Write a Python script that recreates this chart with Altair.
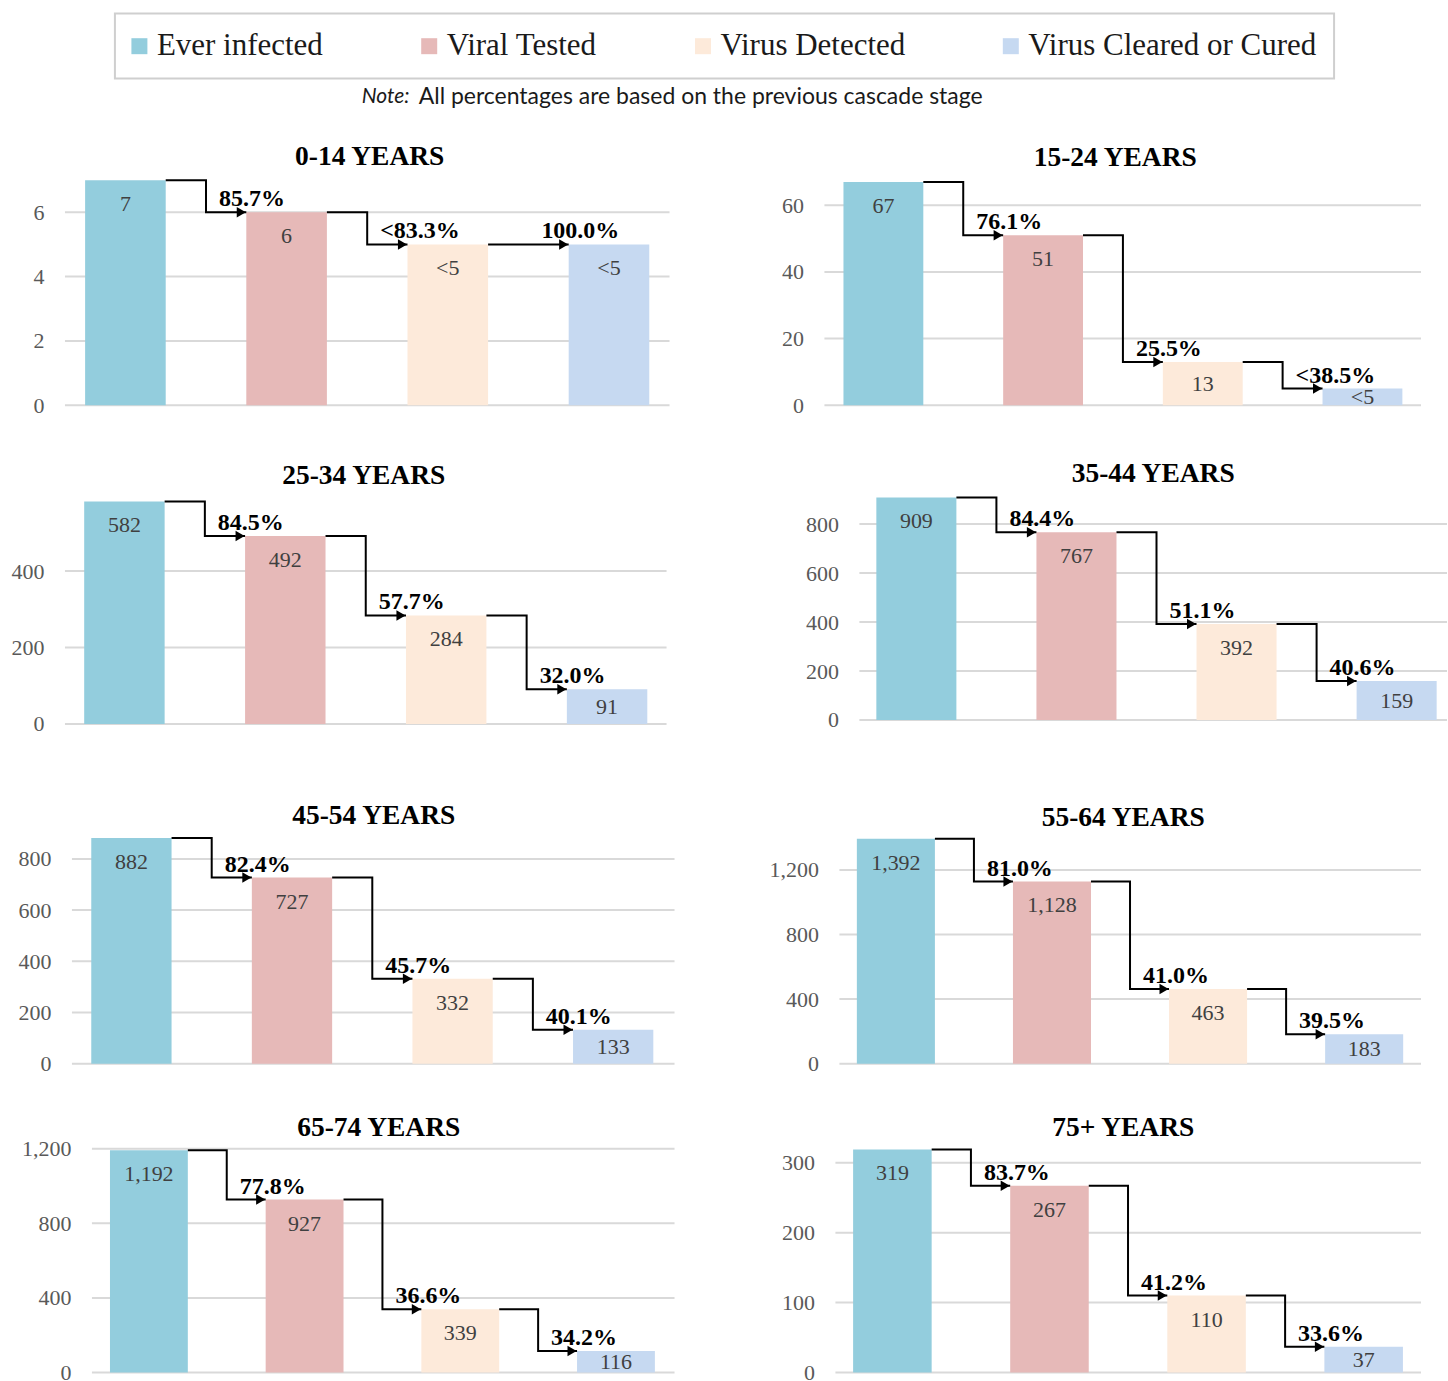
import altair as alt
import pandas as pd

# ---- data -----------------------------------------------------------------
STAGES = ["Ever infected", "Viral Tested", "Virus Detected", "Virus Cleared or Cured"]
STAGE_COLORS = ["#93CDDD", "#E6B9B8", "#FDEADA", "#C6D9F1"]

AGE_GROUPS = ["0-14 YEARS", "15-24 YEARS", "25-34 YEARS", "35-44 YEARS",
              "45-54 YEARS", "55-64 YEARS", "65-74 YEARS", "75+ YEARS"]

# counts per cascade stage ("<5" = suppressed small cell, drawn at 5)
COUNTS_0_14 = ["7", "6", "<5", "<5"]
COUNTS_15_24 = ["67", "51", "13", "<5"]
COUNTS_25_34 = ["582", "492", "284", "91"]
COUNTS_35_44 = ["909", "767", "392", "159"]
COUNTS_45_54 = ["882", "727", "332", "133"]
COUNTS_55_64 = ["1,392", "1,128", "463", "183"]
COUNTS_65_74 = ["1,192", "927", "339", "116"]
COUNTS_75_UP = ["319", "267", "110", "37"]

# stage-to-stage percentages (relative to the previous stage)
PCT_0_14 = ["85.7%", "<83.3%", "100.0%"]
PCT_15_24 = ["76.1%", "25.5%", "<38.5%"]
PCT_25_34 = ["84.5%", "57.7%", "32.0%"]
PCT_35_44 = ["84.4%", "51.1%", "40.6%"]
PCT_45_54 = ["82.4%", "45.7%", "40.1%"]
PCT_55_64 = ["81.0%", "41.0%", "39.5%"]
PCT_65_74 = ["77.8%", "36.6%", "34.2%"]
PCT_75_UP = ["83.7%", "41.2%", "33.6%"]

# y-axis tick values per panel
TICKS_0_14 = [0, 2, 4, 6]
TICKS_15_24 = [0, 20, 40, 60]
TICKS_25_34 = [0, 200, 400]
TICKS_35_44 = [0, 200, 400, 600, 800]
TICKS_45_54 = [0, 200, 400, 600, 800]
TICKS_55_64 = [0, 400, 800, 1200]
TICKS_65_74 = [0, 400, 800, 1200]
TICKS_75_UP = [0, 100, 200, 300]

NOTE_LEAD = "Note:"
NOTE_TEXT = "All percentages are based on the previous cascade stage"

COUNTS = dict(zip(AGE_GROUPS, [COUNTS_0_14, COUNTS_15_24, COUNTS_25_34, COUNTS_35_44,
                               COUNTS_45_54, COUNTS_55_64, COUNTS_65_74, COUNTS_75_UP]))
PCTS = dict(zip(AGE_GROUPS, [PCT_0_14, PCT_15_24, PCT_25_34, PCT_35_44,
                             PCT_45_54, PCT_55_64, PCT_65_74, PCT_75_UP]))
TICKS = dict(zip(AGE_GROUPS, [TICKS_0_14, TICKS_15_24, TICKS_25_34, TICKS_35_44,
                              TICKS_45_54, TICKS_55_64, TICKS_65_74, TICKS_75_UP]))

# ---- layout (page pixels) --------------------------------------------------
SERIF = "Liberation Serif, Times New Roman, serif"
SANS = "Lato, Carlito, Liberation Sans, sans-serif"

COLS = {"left": (0, 675), "right": (825, 623)}   # plot-area left edge, width
ROWS = [181, 502, 838, 1149, 1381]               # row boundaries of the panel grid

# grid: gridline extent; bars: first bar centre, bar pitch;
# zero: pixel of 0; ref: (value, pixel) of a reference gridline;
# row: grid row; title: title centre (x, y); nudge: extra title shift
LAYOUT = {
    "0-14 YEARS":  dict(col="left", row=0, grid=(65, 670), bars=(125.5, 161.3),
                        zero=405, ref=(6, 212), title=(370, 157), nudge=0),
    "15-24 YEARS": dict(col="right", row=0, grid=(825, 1422), bars=(884.0, 159.8),
                        zero=405, ref=(60, 205), title=(1116, 156), nudge=0),
    "25-34 YEARS": dict(col="left", row=1, grid=(65, 667), bars=(124.5, 161.0),
                        zero=724, ref=(400, 571), title=(364, 476), nudge=0),
    "35-44 YEARS": dict(col="right", row=1, grid=(860, 1448), bars=(917.0, 160.2),
                        zero=720, ref=(800, 524), title=(1154, 473), nudge=5),
    "45-54 YEARS": dict(col="left", row=2, grid=(72, 675), bars=(131.5, 160.7),
                        zero=1064, ref=(800, 859), title=(374, 816), nudge=0),
    "55-64 YEARS": dict(col="right", row=2, grid=(840, 1422), bars=(896.5, 156.2),
                        zero=1064, ref=(1200, 870), title=(1124, 817), nudge=0),
    "65-74 YEARS": dict(col="left", row=3, grid=(92, 675), bars=(149.0, 155.8),
                        zero=1373, ref=(1200, 1149), title=(379, 1128), nudge=7),
    "75+ YEARS":   dict(col="right", row=3, grid=(836, 1422), bars=(893.0, 157.2),
                        zero=1373, ref=(300, 1163), title=(1124, 1127), nudge=0),
}

LEGEND = alt.Legend(
    title=None, orient="none", legendX=115, legendY=13, direction="horizontal",
    columns=4, columnPadding=97, symbolType="square", symbolSize=256,
    symbolStrokeWidth=0, symbolOffset=-8, labelFont=SERIF, labelFontSize=31,
    labelColor="#1a1a1a", labelOffset=2, labelLimit=500, padding=17,
    strokeColor="#cfcfcf",
)


def to_number(label):
    return float(label.replace(",", "").lstrip("<"))


def panel(group):
    lay = LAYOUT[group]
    col_left, col_width = COLS[lay["col"]]
    top, bottom = ROWS[lay["row"]], ROWS[lay["row"] + 1]
    c0, pitch = lay["bars"]
    zero = lay["zero"]
    ref_v, ref_px = lay["ref"]
    k = (zero - ref_px) / ref_v  # pixels per unit
    ydom = [-(bottom - zero) / k, (zero - top) / k]
    xdom = [(col_left - c0) / pitch, (col_left + col_width - c0) / pitch]
    g0, g1 = (lay["grid"][0] - c0) / pitch, (lay["grid"][1] - c0) / pitch

    counts = COUNTS[group]
    values = [to_number(c) for c in counts]
    bars = pd.DataFrame({"stage": STAGES, "pos": range(4), "value": values,
                         "label": counts})
    bars["x0"] = bars["pos"] - 0.25
    bars["x1"] = bars["pos"] + 0.25
    bars["base"] = 0.0
    bars["ly"] = [max(v - 24 / k, v / 2) for v in values]

    grid = pd.DataFrame({"tick": TICKS[group], "g0": g0, "g1": g1})

    path = []
    heads = []
    for i in range(3):
        v0, v1 = values[i], values[i + 1]
        pts = [(i + 0.25, v0), (i + 0.5, v0), (i + 0.5, v1), (i + 0.75, v1)]
        for j, (px, py) in enumerate(pts):
            path.append({"seg": i, "ord": j, "cx": px, "cy": py})
        heads.append({"seg": i, "hx": i + 0.75, "mx": i + 0.5, "hy": v1,
                      "pct": PCTS[group][i]})
    path = pd.DataFrame(path)
    heads = pd.DataFrame(heads)

    xs = alt.Scale(domain=xdom, nice=False, zero=False)
    ys = alt.Scale(domain=ydom, nice=False, zero=False)
    yaxis = alt.Axis(values=TICKS[group], format=",.0f", grid=False, domain=False,
                     ticks=False, tickSize=0, labelPadding=21,
                     offset=-(lay["grid"][0] - col_left), labelFont=SERIF,
                     labelFontSize=22, labelColor="#595959", title=None)

    def X(f):
        return alt.X(f, type="quantitative", scale=xs, axis=None)

    def Y(f):
        return alt.Y(f, type="quantitative", scale=ys, axis=yaxis)

    rules = alt.Chart(grid).mark_rule(color="#d9d9d9", strokeWidth=2).encode(
        x=X("g0"), x2="g1", y=Y("tick"))
    rects = alt.Chart(bars).mark_bar().encode(
        x=X("x0"), x2="x1", y=Y("value"), y2="base",
        color=alt.Color("stage:N", scale=alt.Scale(domain=STAGES, range=STAGE_COLORS),
                        legend=LEGEND))
    lines = alt.Chart(path).mark_line(color="black", strokeWidth=2,
                                      strokeJoin="miter").encode(
        x=X("cx"), y=Y("cy"), detail="seg:N", order="ord:Q")
    arrows = alt.Chart(heads).mark_point(shape="triangle-right", filled=True,
                                         color="black", opacity=1, size=110,
                                         xOffset=-5).encode(
        x=X("hx"), y=Y("hy"))
    pct = alt.Chart(heads).mark_text(align="left", baseline="alphabetic", dx=13, dy=-6,
                                     font=SERIF, fontSize=24, fontWeight="bold",
                                     color="black").encode(
        x=X("mx"), y=Y("hy"), text="pct:N")
    vals = alt.Chart(bars).mark_text(baseline="middle", font=SERIF, fontSize=22,
                                     color="#404040").encode(
        x=X("pos"), y=Y("ly"), text="label:N")

    tx, ty = lay["title"]
    title = alt.TitleParams(group, font=SERIF, fontSize=27.5, fontWeight="bold",
                            color="black", anchor="middle",
                            dx=tx - (col_left + col_width / 2),
                            offset=0, dy=ty - top + 46 + lay["nudge"],
                            baseline="bottom")
    return alt.layer(rules, rects, lines, arrows, pct, vals).properties(
        width=col_width, height=bottom - top, title=title)


panels = alt.concat(*[panel(g) for g in AGE_GROUPS], columns=2,
                    spacing={"row": 0, "column": COLS["right"][0] - COLS["left"][1]},
                    align="each", bounds="flush")

note_df = pd.DataFrame({"lead": [NOTE_LEAD], "text": [NOTE_TEXT]})
note_lead = alt.Chart(note_df).mark_text(
    align="left", baseline="middle", font=SANS, fontSize=21, fontStyle="italic",
    color="#1a1a1a").encode(x=alt.value(362), y=alt.value(97), text="lead:N")
note_body = alt.Chart(note_df).mark_text(
    align="left", baseline="middle", font=SANS, fontSize=23,
    color="#1a1a1a").encode(x=alt.value(419), y=alt.value(97), text="text:N")
header = alt.layer(note_lead, note_body).properties(width=1448, height=ROWS[0])

chart = alt.vconcat(header, panels, spacing=0, bounds="flush").properties(
    padding=0
).configure_view(stroke=None).configure_legend(strokeWidth=2)

chart.save("out.html", embed_options={"renderer": "svg", "actions": False})
